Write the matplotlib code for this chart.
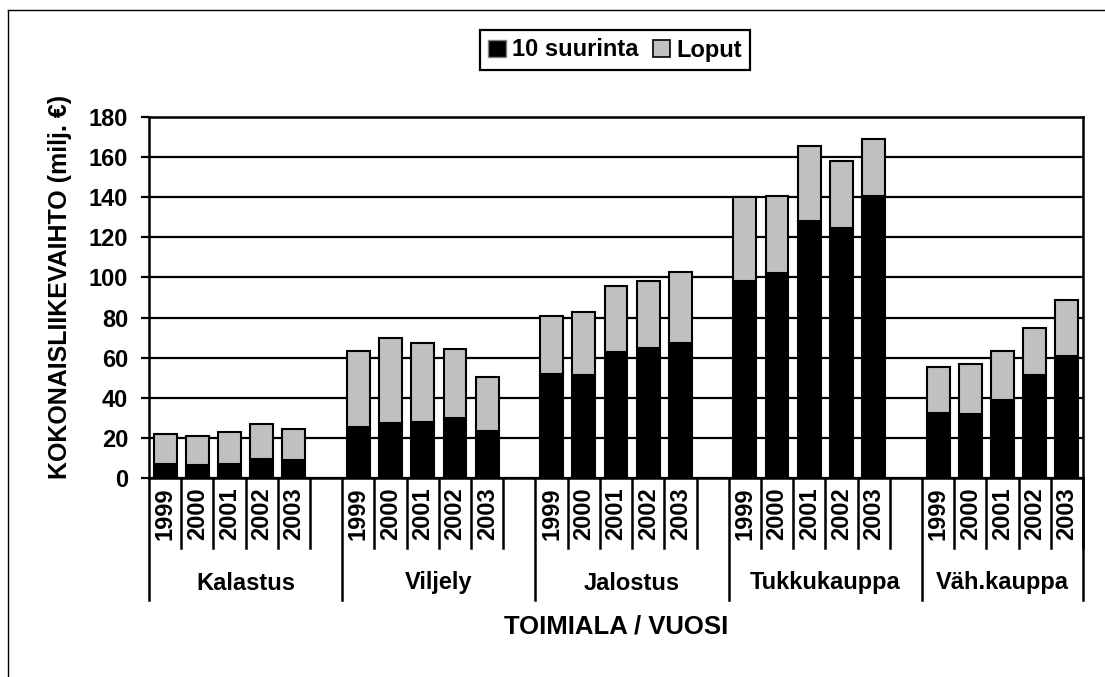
import matplotlib
matplotlib.use('Agg')
import matplotlib.pyplot as plt
import matplotlib.transforms as mtransforms
from matplotlib.lines import Line2D
from matplotlib.patches import Patch

plt.rcParams['font.family'] = ['Liberation Sans', 'DejaVu Sans']
plt.rcParams['font.weight'] = 'bold'

# Data (milj. €)
groups = ['Kalastus', 'Viljely', 'Jalostus', 'Tukkukauppa', 'Väh.kauppa']
years = ['1999', '2000', '2001', '2002', '2003']
top10 = [
    [7.2, 6.5, 7.2, 9.3, 9.0],
    [25.2, 27.2, 28.0, 30.0, 23.3],
    [52.1, 51.6, 62.6, 64.9, 67.4],
    [98.4, 102.4, 128.2, 124.9, 140.7],
    [32.5, 32.1, 38.8, 51.3, 60.8],
]
total = [
    [21.7, 21.0, 22.7, 26.8, 24.3],
    [63.4, 69.6, 67.1, 64.3, 50.3],
    [80.9, 82.6, 95.9, 98.2, 102.9],
    [139.9, 140.7, 165.3, 158.2, 169.0],
    [55.4, 56.6, 63.3, 74.9, 88.8],
]
rest = [[t - a for t, a in zip(tr, ar)] for tr, ar in zip(total, top10)]

W, H = 1105, 677
fig = plt.figure(figsize=(W / 100, H / 100), dpi=100)
ax = fig.add_axes([149 / W, 1 - 478 / H, (1083 - 149) / W, (478 - 117) / H])

# positions: 6 slots per group (5 years + blank), last group without blank
xpos, a_vals, b_vals = [], [], []
for g in range(len(groups)):
    for i in range(len(years)):
        xpos.append(g * 6 + i)
        a_vals.append(top10[g][i])
        b_vals.append(rest[g][i])

ax.bar(xpos, a_vals, width=0.71, color='black', edgecolor='black', linewidth=1.5, zorder=3)
ax.bar(xpos, b_vals, width=0.71, bottom=a_vals, color='#c0c0c0', edgecolor='black',
       linewidth=1.5, zorder=3)

ax.set_xlim(-0.5, 28.5)
ax.set_ylim(0, 180)
ax.set_yticks(range(0, 181, 20))
ax.yaxis.grid(True, color='black', linewidth=1.6)
ax.set_axisbelow(True)
ax.tick_params(axis='y', direction='out', length=6, width=1.6, labelsize=17, pad=9)
ax.set_xticks([])
for s in ax.spines.values():
    s.set_linewidth(1.8)

# multi level category axis
tr = mtransforms.blended_transform_factory(ax.transData, fig.transFigure)
y_axis = 1 - 478 / H
y_year = 1 - 548 / H
y_grp = 1 - 600 / H
for g, name in enumerate(groups):
    s = g * 6
    fig.add_artist(Line2D([s - 0.5, s - 0.5], [y_axis, y_grp], transform=tr,
                          color='black', linewidth=1.8))
    for i, yr in enumerate(years):
        fig.add_artist(Line2D([s + i + 0.5, s + i + 0.5], [y_axis, y_year], transform=tr,
                              color='black', linewidth=1.8))
        fig.text(s + i, 1 - 487 / H, yr, transform=tr, rotation=90, ha='center', va='top',
                 fontsize=17, fontweight='bold')
    end = min(s + 5.5, 28.5)
    fig.text((s - 0.5 + end) / 2, 1 - 583 / H, name, transform=tr, ha='center',
             va='center', fontsize=17, fontweight='bold')
fig.add_artist(Line2D([28.5, 28.5], [y_axis, y_grp], transform=tr, color='black',
                      linewidth=1.8))

fig.text(616 / W, 1 - 627 / H, 'TOIMIALA / VUOSI', ha='center', va='center',
         fontsize=18.5, fontweight='bold')
fig.text(60 / W, 1 - 287 / H, 'KOKONAISLIIKEVAIHTO (milj. €)', rotation=90,
         ha='center', va='center', fontsize=18, fontweight='bold')

handles = [Patch(facecolor='black', edgecolor='#808080', linewidth=1),
           Patch(facecolor='#c0c0c0', edgecolor='black', linewidth=1.2)]
leg = fig.legend(handles, ['10 suurinta', 'Loput'], loc='center',
                 bbox_to_anchor=(615 / W, 1 - 50 / H), ncol=2, fontsize=17,
                 handlelength=0.75, handleheight=0.75, handletextpad=0.25,
                 columnspacing=0.6, borderpad=0.35, fancybox=False, framealpha=1)
leg.get_frame().set_edgecolor('black')
leg.get_frame().set_linewidth(1.6)

# outer chart frame (left and top edges visible)
fig.add_artist(Line2D([8 / W, 8 / W], [0, 1 - 10 / H], transform=fig.transFigure,
                      color='black', linewidth=1))
fig.add_artist(Line2D([8 / W, 1], [1 - 10 / H, 1 - 10 / H], transform=fig.transFigure,
                      color='black', linewidth=1))

fig.savefig('out.png', dpi=100)
